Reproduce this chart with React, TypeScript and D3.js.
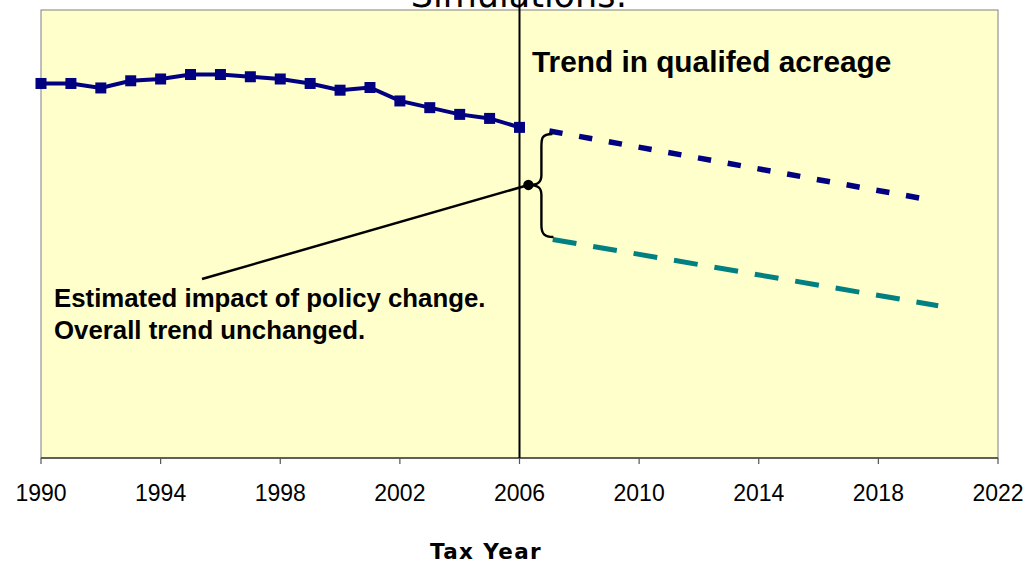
import React from 'react';
import * as d3 from 'd3';

// observed acreage index (no y axis shown in the source chart)
const years = [1990, 1991, 1992, 1993, 1994, 1995, 1996, 1997, 1998, 1999, 2000, 2001, 2002, 2003, 2004, 2005, 2006];
const acreage = [83.6, 83.6, 82.6, 84.2, 84.6, 85.6, 85.6, 85.1, 84.6, 83.6, 82.1, 82.7, 79.7, 78.2, 76.7, 75.8, 73.8];

// projections
const trendYears = [2007, 2019.4];
const trendValues = [73.0, 58.0];
const policyYears = [2007, 2020];
const policyValues = [48.9, 34.0];

const tickYears = [1990, 1994, 1998, 2002, 2006, 2010, 2014, 2018, 2022];
const policyYear = 2006;

const W = 1034;
const H = 563;
const left = 41;
const right = 998;
const top = 10;
const bottom = 458;

const App = () => {
  const x = d3.scaleLinear().domain([1990, 2022]).range([left, right]);
  const y = d3.scaleLinear().domain([0, 100]).range([bottom, top]);

  const line = d3
    .line<[number, number]>()
    .x((d) => x(d[0]))
    .y((d) => y(d[1]));

  const observed = years.map((yr, i) => [yr, acreage[i]] as [number, number]);
  const trend = trendYears.map((yr, i) => [yr, trendValues[i]] as [number, number]);
  const policy = policyYears.map((yr, i) => [yr, policyValues[i]] as [number, number]);

  // curly brace between the two projections
  const bx = x(trendYears[0]);
  const yTop = y(trendValues[0]);
  const yBot = y(policyValues[0]);
  const yMid = (yTop + yBot) / 2;
  const spine = bx - 8;
  const tipX = bx - 21;
  const brace = [
    `M${bx + 3},${yTop + 3}`,
    `C${spine},${yTop + 3} ${spine},${yTop + 8} ${spine},${yTop + 16}`,
    `L${spine},${yMid - 10}`,
    `C${spine},${yMid - 3} ${spine - 3},${yMid} ${tipX},${yMid}`,
    `C${spine - 3},${yMid} ${spine},${yMid + 3} ${spine},${yMid + 10}`,
    `L${spine},${yBot - 14}`,
    `C${spine},${yBot - 5} ${spine + 3},${yBot - 2} ${bx + 4},${yBot - 2}`,
  ].join(' ');

  const labelX = 54;
  const labelY = 307;

  return (
    <svg width={W} height={H} style={{ position: 'absolute', left: 0, top: 0, background: '#fff' }}>
      <rect x={left} y={top} width={right - left} height={bottom - top} fill="#FFFFCC" stroke="#808080" strokeWidth={1} />

      {/* title, clipped by the top edge as in the source */}
      <text x={519} y={7} textAnchor="middle" fontFamily="DejaVu Sans" fontSize={35} fill="#000">
        Simulations:
      </text>

      {/* x axis */}
      <line x1={left} x2={right} y1={bottom} y2={bottom} stroke="#000" strokeWidth={1.2} />
      {tickYears.map((t) => (
        <g key={t}>
          <line x1={x(t)} x2={x(t)} y1={bottom} y2={bottom + 6} stroke="#555" strokeWidth={1.2} />
          <text x={x(t)} y={501} textAnchor="middle" fontFamily="Liberation Sans" fontSize={23} fill="#000">
            {t}
          </text>
        </g>
      ))}
      <text x={486} y={559} textAnchor="middle" fontFamily="DejaVu Sans" fontWeight="bold" fontSize={21.5} letterSpacing={1.4} fill="#000">
        Tax Year
      </text>

      {/* policy change marker */}
      <line x1={x(policyYear)} x2={x(policyYear)} y1={0} y2={bottom} stroke="#000" strokeWidth={2} />

      {/* observed series */}
      <path d={line(observed) ?? ''} fill="none" stroke="#000080" strokeWidth={4} />
      {observed.map((d) => (
        <rect key={d[0]} x={x(d[0]) - 5.5} y={y(d[1]) - 5.5} width={11} height={11} fill="#000080" />
      ))}

      {/* projections */}
      <path d={line(trend) ?? ''} fill="none" stroke="#000080" strokeWidth={5.5} strokeDasharray="13.3 16.9" />
      <path d={line(policy) ?? ''} fill="none" stroke="#008080" strokeWidth={5} strokeDasharray="24 17" strokeDashoffset={37.6} />

      {/* annotation */}
      <path d={brace} fill="none" stroke="#000" strokeWidth={2.4} />
      <line x1={tipX} y1={yMid} x2={labelX + 148} y2={labelY - 28} stroke="#000" strokeWidth={2.5} />
      <circle cx={tipX} cy={yMid} r={5.2} fill="#000" />

      <text x={532} y={72} fontFamily="Liberation Sans" fontWeight="bold" fontSize={29.8} fill="#000">
        Trend in qualifed acreage
      </text>
      <text x={labelX} y={labelY} fontFamily="Liberation Sans" fontWeight="bold" fontSize={25.8} fill="#000">
        Estimated impact of policy change.
      </text>
      <text x={labelX} y={labelY + 31.5} fontFamily="Liberation Sans" fontWeight="bold" fontSize={25.8} fill="#000">
        Overall trend unchanged.
      </text>
    </svg>
  );
};

export default App;
